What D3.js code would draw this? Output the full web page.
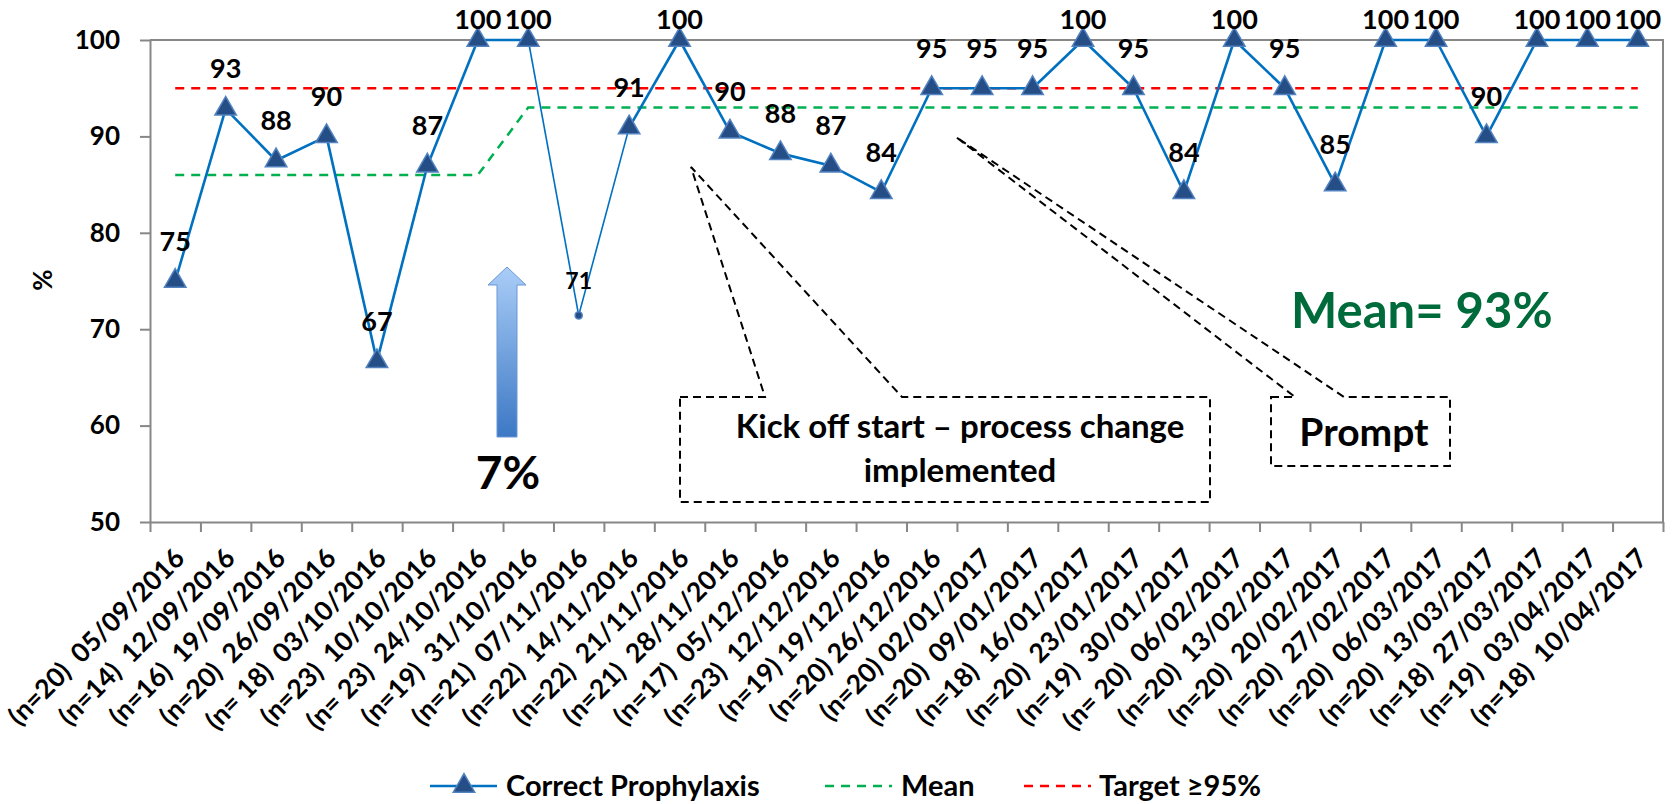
<!DOCTYPE html>
<html>
<head>
<meta charset="utf-8">
<script src="https://cdn.jsdelivr.net/npm/d3@7"></script>
<style>
  html, body { margin: 0; padding: 0; background: #fff; }
  svg text { font-family: Lato, "Open Sans", sans-serif; font-weight: 700; fill: #000; }
</style>
</head>
<body>
<svg id="chart" width="1677" height="804"></svg>
<script>
// Weekly audit of correct prophylaxis (%), with sample size per week
const xLabels = [
  "(n=20)  05/09/2016", "(n=14)  12/09/2016", "(n=16)  19/09/2016", "(n=20)  26/09/2016",
  "(n= 18)  03/10/2016", "(n=23)  10/10/2016", "(n= 23)  24/10/2016", "(n=19)  31/10/2016",
  "(n=21)  07/11/2016", "(n=22)  14/11/2016", "(n=22)  21/11/2016", "(n=21)  28/11/2016",
  "(n=17)  05/12/2016", "(n=23)  12/12/2016", "(n=19) 19/12/2016", "(n=20) 26/12/2016",
  "(n=20) 02/01/2017", "(n=20)  09/01/2017", "(n=18)  16/01/2017", "(n=20)  23/01/2017",
  "(n=19)  30/01/2017", "(n= 20)  06/02/2017", "(n=20)  13/02/2017", "(n=20)  20/02/2017",
  "(n=20)  27/02/2017", "(n=20)  06/03/2017", "(n=20)  13/03/2017", "(n=18)  27/03/2017",
  "(n=19)  03/04/2017", "(n=18)  10/04/2017"
];
const correctProphylaxis = [
  75, 92.86, 87.5, 90, 66.67, 86.96, 100, 100, 71.43, 90.91,
  100, 90.48, 88.24, 86.96, 84.21, 95, 95, 95, 100, 95,
  84.21, 100, 95, 85, 100, 100, 90, 100, 100, 100
];
const meanValues = [
  86, 86, 86, 86, 86, 86, 86, 93, 93, 93,
  93, 93, 93, 93, 93, 93, 93, 93, 93, 93,
  93, 93, 93, 93, 93, 93, 93, 93, 93, 93
];
const targetValues = [
  95, 95, 95, 95, 95, 95, 95, 95, 95, 95,
  95, 95, 95, 95, 95, 95, 95, 95, 95, 95,
  95, 95, 95, 95, 95, 95, 95, 95, 95, 95
];
const yTicks = [50, 60, 70, 80, 90, 100];
const legendNames = ["Correct Prophylaxis", "Mean", "Target \u226595%"];

// ---- layout ----
const svg = d3.select("#chart");
const plot = { left: 150, right: 1663, top: 40, bottom: 522 };
const axisGrey = "#878787";
const lineBlue = "#0070c0";
const markerFill = "#254d86";
const markerStroke = "#5283c0";
const meanGreen = "#00b050";
const targetRed = "#ff0000";

const x = d3.scaleBand().domain(d3.range(xLabels.length)).range([plot.left, plot.right]).paddingInner(0).paddingOuter(0);
const cx = i => x(i) + x.bandwidth() / 2;
const y = d3.scaleLinear().domain([50, 100]).range([plot.bottom, plot.top]);

// plot frame (top and right edges)
svg.append("path")
  .attr("d", `M${plot.left},${plot.top}H${plot.right}V${plot.bottom}`)
  .attr("fill", "none").attr("stroke", axisGrey).attr("stroke-width", 2);

// y axis
const yAxis = svg.append("g")
  .attr("transform", `translate(${plot.left},0)`)
  .call(d3.axisLeft(y).tickValues(yTicks).tickSize(10).tickPadding(20).tickSizeOuter(0));
yAxis.select(".domain").attr("stroke", axisGrey).attr("stroke-width", 2);
yAxis.selectAll(".tick line").attr("stroke", axisGrey).attr("stroke-width", 2);
yAxis.selectAll(".tick text").attr("font-size", 26).attr("font-family", "Lato, sans-serif").attr("font-weight", 700).attr("fill", "#000");

// x axis: tick marks sit on category boundaries
const xb = d3.scaleLinear().domain([0, xLabels.length]).range([plot.left, plot.right]);
const xAxis = svg.append("g")
  .attr("transform", `translate(0,${plot.bottom})`)
  .call(d3.axisBottom(xb).tickValues(d3.range(xLabels.length + 1)).tickSize(10).tickSizeOuter(0).tickFormat(""));
xAxis.select(".domain").attr("stroke", axisGrey).attr("stroke-width", 2);
xAxis.selectAll(".tick line").attr("stroke", axisGrey).attr("stroke-width", 2);

svg.append("g").selectAll("text")
  .data(xLabels)
  .join("text")
  .attr("transform", (d, i) => `translate(${cx(i) + 11},${plot.bottom + 38}) rotate(-45)`)
  .attr("text-anchor", "end")
  .attr("font-size", 26.5)
  .style("white-space", "pre")
  .text(d => d);

// y axis title
svg.append("text")
  .attr("transform", `translate(52,280) rotate(-90)`)
  .attr("text-anchor", "middle")
  .attr("font-size", 26)
  .text("%");

// target and mean reference lines
const refLine = d3.line().x((d, i) => cx(i)).y(d => y(d));
svg.append("path").datum(targetValues)
  .attr("d", refLine).attr("fill", "none")
  .attr("stroke", targetRed).attr("stroke-width", 2.5).attr("stroke-dasharray", "9,7");
svg.append("path").datum(meanValues)
  .attr("d", refLine).attr("fill", "none")
  .attr("stroke", meanGreen).attr("stroke-width", 2.5).attr("stroke-dasharray", "9,7");

// callout annotations
const callouts = svg.append("g").attr("fill", "none").attr("stroke", "#000")
  .attr("stroke-width", 2).attr("stroke-dasharray", "8,5");
callouts.append("path").attr("d", "M680,397H765L691,167L902,397H1210V502H680Z");
callouts.append("path").attr("d", "M1271,397H1295L956,137L1344,397H1450V466H1271Z");

svg.append("text").attr("x", 960).attr("y", 438).attr("text-anchor", "middle")
  .attr("font-size", 33).text("Kick off start \u2013 process change");
svg.append("text").attr("x", 960).attr("y", 482).attr("text-anchor", "middle")
  .attr("font-size", 33).text("implemented");
svg.append("text").attr("x", 1364).attr("y", 446).attr("text-anchor", "middle")
  .attr("font-size", 39).text("Prompt");

svg.append("text").attr("x", 1291).attr("y", 328)
  .attr("font-size", 49).style("fill", "#006b3a").text("Mean= 93%");

// improvement arrow
const defs = svg.append("defs");
const grad = defs.append("linearGradient").attr("id", "arrowGrad")
  .attr("x1", 0).attr("y1", 0).attr("x2", 0).attr("y2", 1);
grad.append("stop").attr("offset", "0%").attr("stop-color", "#aacdf8");
grad.append("stop").attr("offset", "100%").attr("stop-color", "#3c78c4");
svg.append("path")
  .attr("d", "M507,267L526,285H517V437H497V285H488Z")
  .attr("fill", "url(#arrowGrad)").attr("stroke", "#6a97d6").attr("stroke-width", 1);
svg.append("text").attr("x", 508).attr("y", 489).attr("text-anchor", "middle")
  .attr("font-size", 46).text("7%");

// compliance series
const seg = svg.append("g");
for (let i = 0; i < correctProphylaxis.length - 1; i++) {
  const thin = (i === 7 || i === 8);
  seg.append("line")
    .attr("x1", cx(i)).attr("y1", y(correctProphylaxis[i]))
    .attr("x2", cx(i + 1)).attr("y2", y(correctProphylaxis[i + 1]))
    .attr("stroke", lineBlue).attr("stroke-width", thin ? 1.6 : 2.6);
}

const dotIndex = 8;
const tri = d3.symbol().type(d3.symbolTriangle).size(200);
svg.append("g").selectAll("path")
  .data(correctProphylaxis)
  .join("path")
  .attr("transform", (d, i) => `translate(${cx(i)},${y(d)})`)
  .attr("d", (d, i) => i === dotIndex ? d3.symbol().type(d3.symbolCircle).size(40)() : tri())
  .attr("fill", markerFill).attr("stroke", markerStroke).attr("stroke-width", 1.5);

const fmt = d3.format(".0f");
svg.append("g").selectAll("text")
  .data(correctProphylaxis)
  .join("text")
  .attr("x", (d, i) => cx(i))
  .attr("y", (d, i) => y(d) - (d >= 100 ? 21 : i === dotIndex ? 36 : 40) + 9.5)
  .attr("text-anchor", "middle")
  .attr("font-size", (d, i) => i === dotIndex ? 23 : 27)
  .text(d => fmt(d));

// legend
const lg = svg.append("g").attr("transform", "translate(0,786)");
lg.append("line").attr("x1", 430).attr("x2", 497).attr("stroke", lineBlue).attr("stroke-width", 2.6);
lg.append("path").attr("transform", "translate(464,0)").attr("d", tri())
  .attr("fill", markerFill).attr("stroke", markerStroke).attr("stroke-width", 1.5);
lg.append("text").attr("x", 506).attr("y", 10).attr("font-size", 29).text(legendNames[0]);
lg.append("line").attr("x1", 825).attr("x2", 892).attr("stroke", meanGreen).attr("stroke-width", 2.5).attr("stroke-dasharray", "9,7");
lg.append("text").attr("x", 901).attr("y", 10).attr("font-size", 29).text(legendNames[1]);
lg.append("line").attr("x1", 1024).attr("x2", 1091).attr("stroke", targetRed).attr("stroke-width", 2.5).attr("stroke-dasharray", "9,7");
lg.append("text").attr("x", 1099).attr("y", 10).attr("font-size", 29).text(legendNames[2]);
</script>
</body>
</html>
